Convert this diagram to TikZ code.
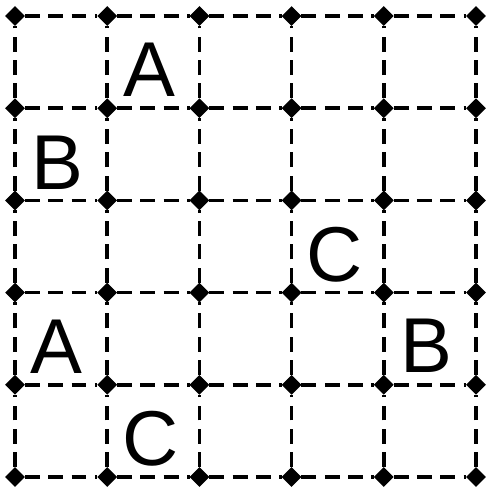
\documentclass[tikz,border=0pt]{standalone}
\usepackage{fontspec}
\setmainfont{Liberation Sans}
\usetikzlibrary{shapes.geometric}
\tikzset{
  gridpoint/.style={
    shape = diamond,
    draw,
    fill,
    inner sep = 0pt,
    minimum size = 0.2cm
  },
  gridline/.style={
    line width = 1.1pt,
    dash pattern = on 4.6pt off 2.6pt
  },
  letter/.style={
    inner sep = 0pt,
    font = \fontsize{24}{24}\selectfont
  }
}
\begin{document}
\begin{tikzpicture}
        \useasboundingbox (-0.163,-0.152) rectangle (5.120,5.174);
        \foreach \x in {0,...,5}{
                \foreach \y in {0,...,5}{
                        \node[gridpoint] (p\x\y) at (\x,\y) {};
                    }
            }
        \foreach \x in {0,...,5}{
                \foreach \y [count=\yy] in {0,...,4}{
                        \draw[gridline] (p\x\y) -- (p\x\yy);
                        \draw[gridline] (p\y\x) -- (p\yy\x);
                    }
            }
        \foreach \x/\y/\t in {1.46/4.42/A,0.46/3.41/B,3.47/2.41/C,0.45/1.41/A,4.46/1.42/B,1.47/0.41/C}{
                \node[letter] at (\x,\y) {\t};
            }
    \end{tikzpicture}
\end{document}
